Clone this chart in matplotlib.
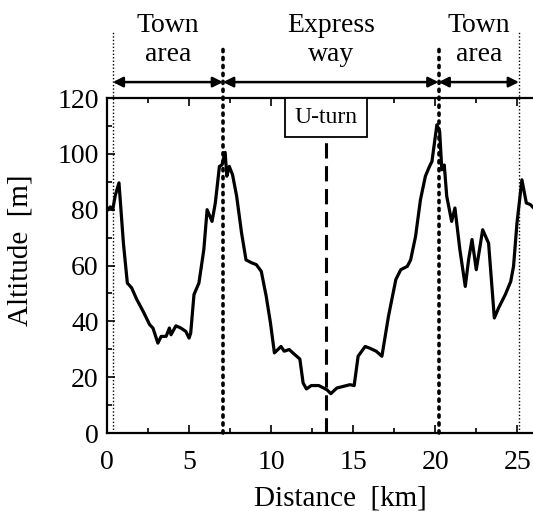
import numpy as np
import matplotlib
matplotlib.use('Agg')
import matplotlib.pyplot as plt
from matplotlib.ticker import MultipleLocator
from matplotlib.patches import Rectangle

plt.rcParams['font.family'] = ['Liberation Serif', 'DejaVu Serif']

# altitude profile
dist = [0.05, 0.2, 0.35, 0.5, 0.73, 0.85, 1.0, 1.1, 1.24, 1.5, 1.8, 2.2, 2.6, 2.8, 3.1,
        3.3, 3.6, 3.8, 3.9, 4.2, 4.5, 4.8, 5.0, 5.1, 5.3, 5.6, 5.9, 6.1, 6.4, 6.6, 6.85,
        7.0, 7.2, 7.3, 7.45, 7.65, 7.9, 8.2, 8.47, 8.8, 9.1, 9.4, 9.7, 9.96, 10.2, 10.5,
        10.6, 10.8, 11.1, 11.4, 11.75, 11.95, 12.15, 12.45, 12.9, 13.4, 13.64, 14.0,
        14.4, 14.8, 15.06, 15.3, 15.73, 16.0, 16.4, 16.75, 17.15, 17.6, 17.9, 18.3,
        18.5, 18.8, 19.1, 19.4, 19.65, 19.8, 20.1, 20.27, 20.4, 20.55, 20.7, 21.0,
        21.2, 21.5, 21.83, 22.03, 22.24, 22.5, 22.89, 23.25, 23.6, 23.86, 24.27,
        24.6, 24.77, 24.98, 25.28, 25.55, 25.8, 26.0, 26.2]
alt = [80, 81, 80, 85, 89.6, 80, 68, 62, 53.7, 52, 48, 43.6, 38.8, 37.6, 32.2,
       34.6, 34.6, 37.6, 35.2, 38.4, 37.6, 36.4, 34, 35.8, 49.6, 53.7, 65.7, 80, 75.8,
       82.4, 95.5, 96, 100.5, 92, 95.5, 92.5, 84.8, 71.6, 62, 61, 60.3, 57.9, 49, 39.4,
       28.7, 30.4, 31, 29.3, 29.9, 28.3, 26.5, 17.9, 15.8, 17, 17, 15.5, 14.1, 16.1,
       16.7, 17.3, 17, 27.5, 31, 30.4, 29.3, 27.5, 41.8, 55, 58.5, 59.7, 62, 70.4,
       83.6, 92, 95.5, 97.3, 110.4, 108, 94.3, 96, 84.8, 75.8, 80.6, 65.7, 52.5, 62,
       69.3, 58.5, 72.8, 68, 41.2, 44.8, 49.6, 54.3, 59.7, 75.2, 90.7, 82.4, 81.8,
       80.6, 80]

# section borders and U-turn point [km]
thin_borders = [0.35, 25.1]
thick_borders = [7.07, 20.2]
uturn_x = 13.35
section_labels = ['Town\narea', 'Express\nway', 'Town\narea']
section_edges = [0.35, 7.07, 20.2, 25.1]

fig = plt.figure(figsize=(5.33, 5.11), dpi=100)
W, H = 533, 511
ax = fig.add_axes([107 / W, (H - 433) / H, (537 - 107) / W, (433 - 98) / H])

ax.plot(dist, alt, color='black', lw=2.3, zorder=3, solid_joinstyle='round')

ax.set_xlim(0, 26.2)
ax.set_ylim(0, 120)

# vertical borders, reaching above the frame
for xb in thin_borders:
    ax.plot([xb, xb], [0, 143.5], color='black', lw=1.0, ls=(0, (1, 1.5)),
            clip_on=False, zorder=2)
for xb in thick_borders:
    ax.plot([xb, xb], [0, 139], color='black', lw=2.6, ls=(0, (0.6, 1.6)),
            dash_capstyle='round', clip_on=False, zorder=2)

# U-turn marker
ax.plot([uturn_x, uturn_x], [0, 106], color='black', lw=2.2,
        ls=(0, (5, 2.5)), zorder=2)
ax.add_patch(Rectangle((10.85, 106), 5.0, 14, fc='white', ec='black', lw=1.3,
                       zorder=4))
ax.text(uturn_x, 113, 'U-turn', ha='center', va='center', fontsize=17, zorder=5)

# section arrows and labels
for i, lab in enumerate(section_labels):
    x0, x1 = section_edges[i], section_edges[i + 1]
    ax.annotate('', xy=(x0, 125.7), xytext=(x1, 125.7), xycoords='data',
                annotation_clip=False,
                arrowprops=dict(arrowstyle='<|-|>', color='black', lw=1.8,
                                mutation_scale=15, shrinkA=0, shrinkB=0))
    ax.text((x0 + x1) / 2, 140.8, lab, ha='center', va='center', fontsize=20,
            linespacing=1.2, clip_on=False)

ax.xaxis.set_major_locator(MultipleLocator(5))
ax.xaxis.set_minor_locator(MultipleLocator(2.5))
ax.yaxis.set_major_locator(MultipleLocator(20))
ax.yaxis.set_minor_locator(MultipleLocator(10))
ax.tick_params(which='both', direction='in', top=True, right=False, labelsize=20,
               width=1.2)
ax.tick_params(axis='x', pad=12)
ax.tick_params(axis='y', pad=6)
ax.tick_params(which='major', length=6)
ax.tick_params(which='minor', length=3.5)
for s in ax.spines.values():
    s.set_linewidth(1.6)

ax.set_xlabel('Distance  [km]', fontsize=21)
ax.set_ylabel('Altitude  [m]', fontsize=21)
ax.xaxis.set_label_coords(0.542, -0.158)
ax.yaxis.set_label_coords(-0.17, 0.546)

fig.savefig('out.png', dpi=100)
